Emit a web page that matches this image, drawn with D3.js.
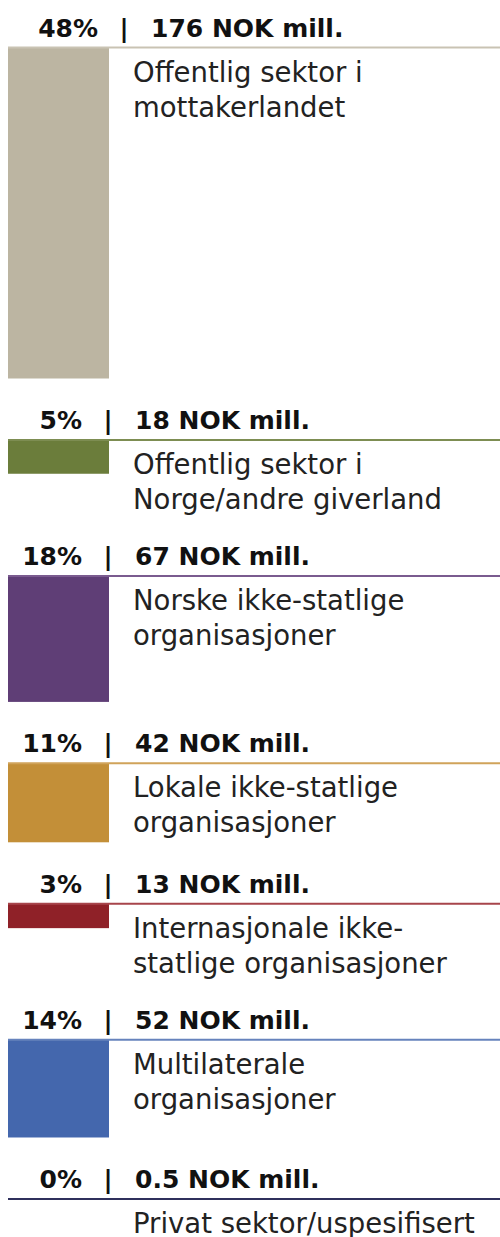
<!DOCTYPE html>
<html>
<head>
<meta charset="utf-8">
<script src="https://cdn.jsdelivr.net/npm/d3@7"></script>
<style>
  html, body { margin: 0; padding: 0; background: #fff; }
  svg { display: block; }
</style>
</head>
<body>
<div id="chart"></div>
<script>
// values
const categories = [
  ["Offentlig sektor i", "mottakerlandet"],
  ["Offentlig sektor i", "Norge/andre giverland"],
  ["Norske ikke-statlige", "organisasjoner"],
  ["Lokale ikke-statlige", "organisasjoner"],
  ["Internasjonale ikke-", "statlige organisasjoner"],
  ["Multilaterale", "organisasjoner"],
  ["Privat sektor/uspesifisert"]
];
const amounts = [176, 18, 67, 42, 13, 52, 0.5];
const percents = ["48%", "5%", "18%", "11%", "3%", "14%", "0%"];
const colors = ["#bcb5a2", "#6b7d3b", "#5f3e76", "#c38f38", "#8f2128", "#4467ad", "#2f305c"];
const lineColors = ["#c9c3b3", "#7d8d52", "#7a5b8f", "#d0a35a", "#a7454b", "#6683bd", "#2f305c"];

const width = 500, height = 1237;
const barX = 8, barW = 101, labelX = 133;
const blockGap = 61.4, textBlock = 136;

let svg = d3.select("#chart")
            .append("svg")
            .attr("width", width)
            .attr("height", height);

// bar height scale
let h = d3.scaleLinear()
          .domain([0, d3.max(amounts)])
          .range([0, 331]);

// work out where every block starts
let tops = [];
let y = 47.5;
amounts.forEach(function(d){
  tops.push(y);
  y += Math.max(h(d) + blockGap, textBlock);
});

let blocks = svg.selectAll("g.block")
                .data(amounts)
                .enter()
                .append("g")
                .attr("class", "block")
                .attr("transform", function(d, i){ return "translate(0," + tops[i] + ")"; });

// bars
blocks.append("rect")
      .attr("x", barX)
      .attr("y", 0)
      .attr("width", barW)
      .attr("height", function(d){ return h(d); })
      .style("fill", function(d, i){ return colors[i]; });

// separator line
blocks.append("line")
      .attr("x1", barX)
      .attr("x2", width)
      .attr("y1", 0)
      .attr("y2", 0)
      .attr("stroke", function(d, i){ return lineColors[i]; })
      .attr("stroke-width", 2);

// header: percent | amount  (first header sits a little further right in the original)
let shift = function(i){ return i === 0 ? 16 : 0; };
let headerFont = { "font-family": "'DejaVu Sans', Verdana, sans-serif", "font-size": "25px", "font-weight": "bold" };

blocks.append("text")
      .text(function(d, i){ return percents[i]; })
      .attr("x", function(d, i){ return 82 + shift(i); })
      .attr("y", -11)
      .attr("text-anchor", "end")
      .attr("fill", "#111")
      .style("font-family", headerFont["font-family"])
      .style("font-size", headerFont["font-size"])
      .style("font-weight", headerFont["font-weight"]);

blocks.append("text")
      .text("|")
      .attr("x", function(d, i){ return 108 + shift(i); })
      .attr("y", -11)
      .attr("text-anchor", "middle")
      .attr("fill", "#111")
      .style("font-family", headerFont["font-family"])
      .style("font-size", headerFont["font-size"])
      .style("font-weight", headerFont["font-weight"]);

blocks.append("text")
      .text(function(d){ return d + " NOK mill."; })
      .attr("x", function(d, i){ return 135 + shift(i); })
      .attr("y", -11)
      .attr("text-anchor", "start")
      .attr("fill", "#111")
      .style("font-family", headerFont["font-family"])
      .style("font-size", headerFont["font-size"])
      .style("font-weight", headerFont["font-weight"]);

// category labels
blocks.append("text")
      .attr("fill", "#222")
      .style("font-family", "'DejaVu Sans', Verdana, sans-serif")
      .style("font-size", "27.5px")
      .selectAll("tspan")
      .data(function(d, i){ return categories[i]; })
      .enter()
      .append("tspan")
      .attr("x", labelX)
      .attr("y", function(d, j){ return 34 + j * 35; })
      .text(function(d){ return d; });
</script>
</body>
</html>
